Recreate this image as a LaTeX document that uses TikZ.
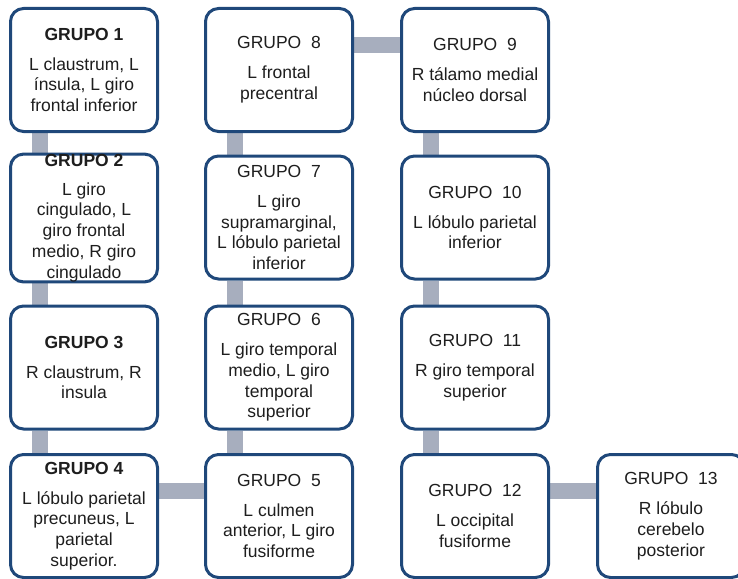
\documentclass[tikz,border=0pt]{standalone}
\usepackage{fontspec}
\setmainfont{Liberation Sans}
\usetikzlibrary{backgrounds}
\definecolor{borde}{RGB}{31,72,122}
\definecolor{barra}{RGB}{167,174,190}
\definecolor{letra}{RGB}{30,30,30}
\tikzset{
  grupo/.style={draw=borde,line width=3pt,fill=white,rounded corners=13pt,
    minimum width=147pt,minimum height=123pt,inner sep=0pt,align=center,
    text=letra,font=\fontsize{17.5}{20.8}\selectfont},
  union/.style={barra,line width=16pt}
}
\begin{document}
\begin{tikzpicture}[x=1pt,y=1pt]
\useasboundingbox (0,0) rectangle (738,-578);
% columna 1
\node[grupo] (g1) at (84,-70) {\textbf{GRUPO 1}\\[9pt]L claustrum, L\\ínsula, L giro\\frontal inferior};
\node[grupo] (g2) at (84,-218) {\textbf{GRUPO 2}\\[8pt]L giro\\cingulado, L\\giro frontal\\medio, R giro\\cingulado};
\node[grupo] (g3) at (84,-367.5) {\textbf{GRUPO 3}\\[9pt]R claustrum, R\\insula};
\node[grupo] (g4) at (84,-516) {\textbf{GRUPO 4}\\[9pt]L lóbulo parietal\\precuneus, L\\parietal\\superior.};
% columna 2
\node[grupo] (g8) at (279,-70) {GRUPO\ \ 8\\[9pt]L frontal\\precentral};
\node[grupo] (g7) at (279,-217.5) {GRUPO\ \ 7\\[9pt]L giro\\supramarginal,\\L lóbulo parietal\\inferior};
\node[grupo] (g6) at (279,-367.5) {GRUPO\ \ 6\\[9pt]L giro temporal\\medio, L giro\\temporal\\superior};
\node[grupo] (g5) at (279,-516) {GRUPO\ \ 5\\[9pt]L culmen\\anterior, L giro\\fusiforme};
% columna 3
\node[grupo] (g9) at (475,-70) {GRUPO\ \ 9\\[9pt]R tálamo medial\\núcleo dorsal};
\node[grupo] (g10) at (475,-217.5) {GRUPO\ \ 10\\[9pt]L lóbulo parietal\\inferior};
\node[grupo] (g11) at (475,-367.5) {GRUPO\ \ 11\\[9pt]R giro temporal\\superior};
\node[grupo] (g12) at (475,-516) {GRUPO\ \ 12\\[9pt]L occipital\\fusiforme};
% columna 4
\node[grupo] (g13) at (671,-516) {GRUPO\ \ 13\\[9pt]R lóbulo\\cerebelo\\posterior};
\begin{scope}[on background layer]
\foreach \a/\b in {g1/g2,g2/g3,g3/g4,g8/g7,g7/g6,g6/g5,g9/g10,g10/g11,g11/g12}{
  \draw[union] ([xshift=-44pt]\a.south) -- ([xshift=-44pt]\b.north);}
\foreach \a/\b in {g8/g9,g4/g5,g12/g13}{
  \draw[union] ([yshift=25pt]\a.east) -- ([yshift=25pt]\b.west);}
\end{scope}
\end{tikzpicture}
\end{document}
